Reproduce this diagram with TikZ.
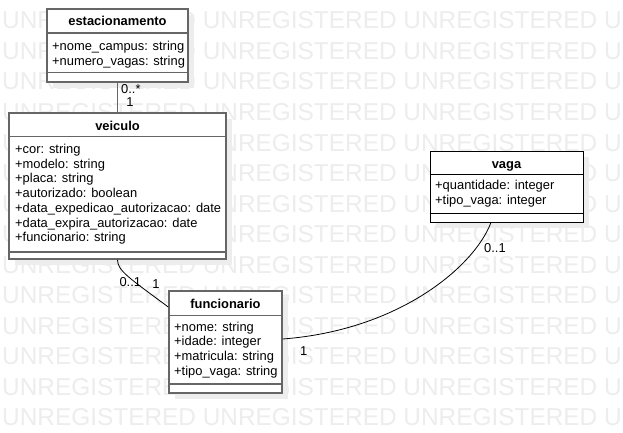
\documentclass[tikz,border=0pt]{standalone}
\usepackage{fontspec}
\setmainfont{Liberation Sans}
\usetikzlibrary{positioning,calc,shadows}
\tikzset{
  classbox/.style={
    rectangle,
    draw=black!60, line width=1.5pt,
    fill=white,
    inner sep=0pt,
    drop shadow={shadow xshift=6pt, shadow yshift=-6pt, fill=black!7, opacity=1}},
  sepline/.style={draw=black!60, line width=1.5pt},
  classname/.style={font=\bfseries\fontsize{12.9}{14.7}\selectfont, inner sep=0pt, anchor=base},
  attr/.style={font=\fontsize{12.9}{14.7}\selectfont, inner sep=0pt, anchor=base west},
  mult/.style={font=\fontsize{12.9}{14.7}\selectfont, inner sep=0pt},
  assoc/.style={draw=black, line width=0.8pt},
  watermark/.style={font=\fontsize{24.4}{29}\selectfont, text=black!7, inner sep=0pt, anchor=base west},
}

\begin{document}
\begin{tikzpicture}[x=1pt, y=-1pt]
    \useasboundingbox (0,0) rectangle (623,433);
    \clip (0,0) rectangle (623,433);
    \fill[white] (0,0) rectangle (623,433);

    %watermark
    \foreach \k in {0,...,13}
      \node[watermark] (wm\k) at (2, {29+30.5*\k})
        {UNREGISTERED UNREGISTERED UNREGISTERED UNREGISTERED};

    %classes
    \node[classbox, minimum width=141, minimum height=73] (est) at (117.5,45.5) {};
    \node[classname] (est-t) at (117.5,26) {estacionamento};
    \draw[sepline] ([yshift=-25pt]est.north west) -- ([yshift=-25pt]est.north east);
    \draw[sepline] ([yshift=10pt]est.south west) -- ([yshift=10pt]est.south east);
    \foreach \a [count=\i from 0] in {+nome\_campus: string, +numero\_vagas: string}
      \node[attr] (est-a\i) at (52, {51+14.7*\i}) {\a};

    \node[classbox, minimum width=217, minimum height=146] (vei) at (117.5,186) {};
    \node[classname] (vei-t) at (117.5,130) {veiculo};
    \draw[sepline] ([yshift=-24pt]vei.north west) -- ([yshift=-24pt]vei.north east);
    \draw[sepline] ([yshift=8pt]vei.south west) -- ([yshift=8pt]vei.south east);
    \foreach \a [count=\i from 0] in {+cor: string, +modelo: string, +placa: string,
        +autorizado: boolean, +data\_expedicao\_autorizacao: date,
        +data\_expira\_autorizacao: date, +funcionario: string}
      \node[attr] (vei-a\i) at (15, {153.5+14.7*\i}) {\a};

    \node[classbox, minimum width=113, minimum height=102] (fun) at (225.5,342) {};
    \node[classname] (fun-t) at (225.5,308) {funcionario};
    \draw[sepline] ([yshift=-25pt]fun.north west) -- ([yshift=-25pt]fun.north east);
    \draw[sepline] ([yshift=10pt]fun.south west) -- ([yshift=10pt]fun.south east);
    \foreach \a [count=\i from 0] in {+nome: string, +idade: integer,
        +matricula: string, +tipo\_vaga: string}
      \node[attr] (fun-a\i) at (174, {331+14.7*\i}) {\a};

    \node[classbox, draw=black, line width=0.8pt, minimum width=153, minimum height=71]
      (vaga) at (506.5,186.5) {};
    \node[classname] (vaga-t) at (506.5,168) {vaga};
    \draw[draw=black, line width=0.8pt] ([yshift=-24pt]vaga.north west) -- ([yshift=-24pt]vaga.north east);
    \draw[draw=black, line width=0.8pt] ([yshift=9pt]vaga.south west) -- ([yshift=9pt]vaga.south east);
    \foreach \a [count=\i from 0] in {+quantidade: integer, +tipo\_vaga: integer}
      \node[attr] (vaga-a\i) at (435, {189.5+14.7*\i}) {\a};

    %associations
    \draw[sepline] (est.south) -- (vei.north);
    \draw[assoc] (vei.south) .. controls +(0,11) and +(-39,-29) .. ([yshift=35pt]fun.west);
    \draw[assoc] ([yshift=3pt]fun.east) .. controls +(118,-9) and +(-16,43) .. ([xshift=-15.5pt]vaga.south);

    %multiplicities
    \node[mult, anchor=base west] (m1) at (121,94) {0..*};
    \node[mult, anchor=base] (m2) at (130,106.3) {1};
    \node[mult, anchor=base west] (m3) at (119.3,286.3) {0..1};
    \node[mult, anchor=base] (m4) at (156,288) {1};
    \node[mult, anchor=base west] (m5) at (484,252) {0..1};
    \node[mult, anchor=base] (m6) at (303.7,355.3) {1};
\end{tikzpicture}
\end{document}
